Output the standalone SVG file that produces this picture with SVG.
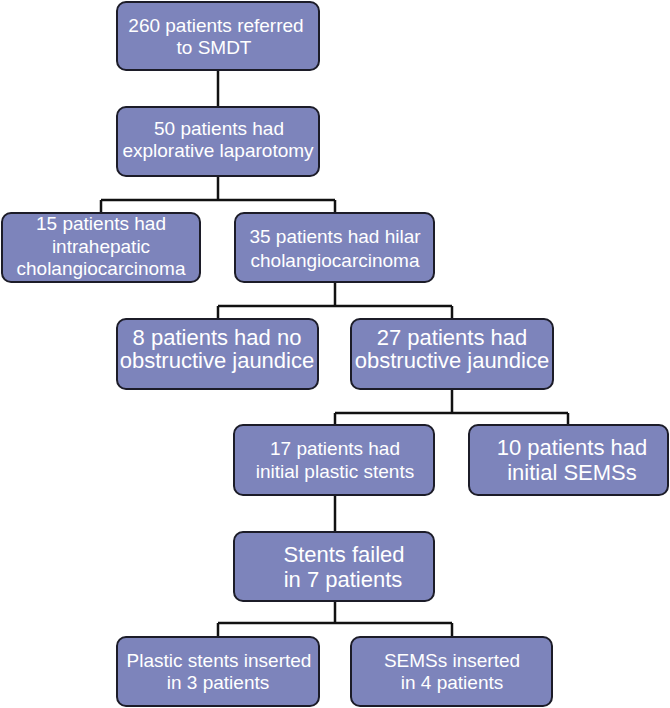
<svg xmlns="http://www.w3.org/2000/svg" width="670" height="708" viewBox="0 0 670 708">
<style>
.box{fill:#7d84bb;stroke:#1c1c28;stroke-width:2}
.t{font-family:"Liberation Sans",Arial,sans-serif;font-size:19px;fill:#ffffff;text-anchor:middle}
.b{font-size:22px}
.c{fill:none;stroke:#111111;stroke-width:2.5}
</style>
<rect width="670" height="708" fill="#ffffff"/>
<g id="connectors">
<path class="c" d="M218 70V107"/>
<path class="c" d="M218 176V200M101 200H335M101 200V213M335 200V213"/>
<path class="c" d="M335 282V306M218 306H452M218 306V319M452 306V319"/>
<path class="c" d="M452 389V413M335 413H568M335 413V425M568 413V425"/>
<path class="c" d="M335 495V532"/>
<path class="c" d="M335 601V623M218 623H452M218 623V637M452 623V637"/>
</g>
<g id="n1"><rect class="box" x="117" y="2" width="202" height="68" rx="9"/>
<text class="t" x="216" y="32">260 patients referred</text><text class="t" x="214" y="54">to SMDT</text></g>
<g id="n2"><rect class="box" x="117" y="107" width="202" height="69" rx="9"/>
<text class="t" x="219" y="135">50 patients had</text><text class="t" x="218" y="157">explorative laparotomy</text></g>
<g id="n3"><rect class="box" x="2" y="213" width="198" height="69" rx="9"/>
<text class="t" x="101" y="230">15 patients had</text><text class="t" x="101" y="253">intrahepatic</text><text class="t" x="101" y="275">cholangiocarcinoma</text></g>
<g id="n4"><rect class="box" x="235" y="213" width="199" height="69" rx="9"/>
<text class="t" x="335" y="243">35 patients had hilar</text><text class="t" x="335" y="267">cholangiocarcinoma</text></g>
<g id="n5"><rect class="box" x="117" y="319" width="201" height="70" rx="9"/>
<text class="t b" x="217" y="345">8 patients had no</text><text class="t b" x="217" y="368">obstructive jaundice</text></g>
<g id="n6"><rect class="box" x="351" y="319" width="202" height="70" rx="9"/>
<text class="t b" x="452" y="345">27 patients had</text><text class="t b" x="452" y="368">obstructive jaundice</text></g>
<g id="n7"><rect class="box" x="234" y="425" width="200" height="70" rx="9"/>
<text class="t" x="335" y="455">17 patients had</text><text class="t" x="335" y="478">initial plastic stents</text></g>
<g id="n8"><rect class="box" x="469" y="425" width="199" height="70" rx="9"/>
<text class="t b" x="572" y="455">10 patients had</text><text class="t b" x="572" y="480">initial SEMSs</text></g>
<g id="n9"><rect class="box" x="234" y="532" width="200" height="69" rx="9"/>
<text class="t b" x="344" y="562">Stents failed</text><text class="t b" x="343" y="587">in 7 patients</text></g>
<g id="n10"><rect class="box" x="117" y="637" width="202" height="69" rx="9"/>
<text class="t" x="219" y="667">Plastic stents inserted</text><text class="t" x="218" y="689">in 3 patients</text></g>
<g id="n11"><rect class="box" x="351" y="637" width="201" height="69" rx="9"/>
<text class="t" x="452" y="667">SEMSs inserted</text><text class="t" x="452" y="689">in 4 patients</text></g>
</svg>
